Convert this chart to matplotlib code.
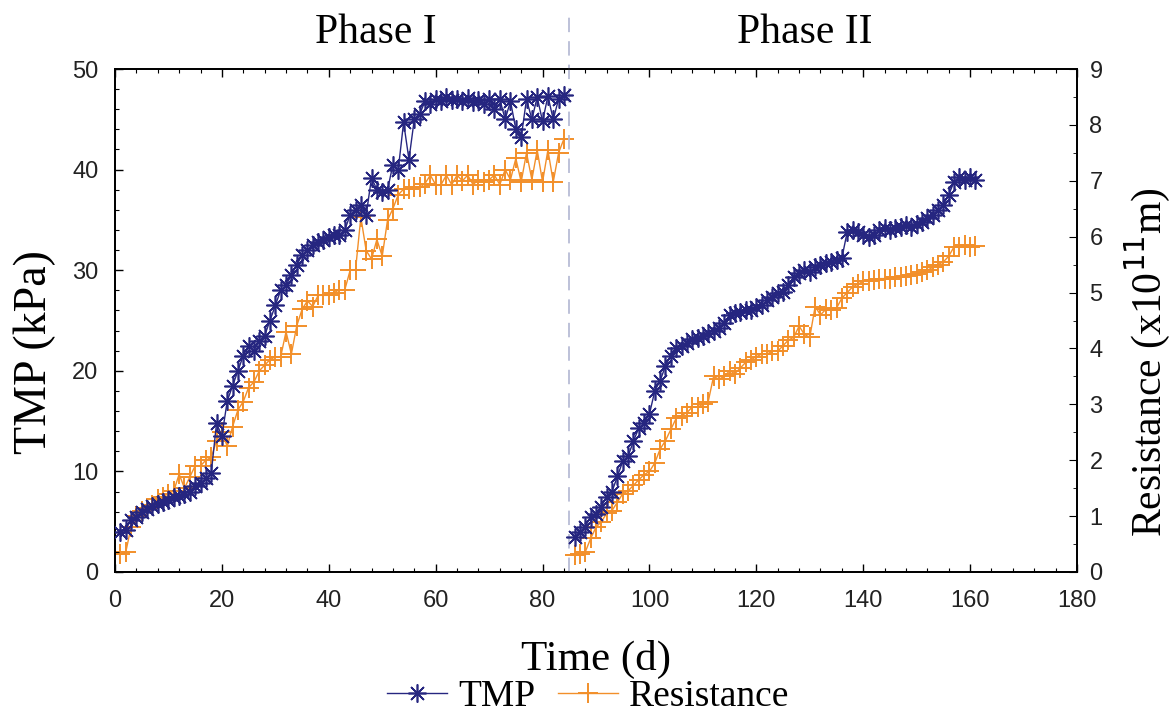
import matplotlib.pyplot as plt
from matplotlib.ticker import MultipleLocator
from matplotlib.lines import Line2D

plt.rcParams["font.family"] = ["Liberation Serif", "DejaVu Serif"]

# Phase I (days 1-84)
days_1 = list(range(1, 85))
tmp_1 = [4.0, 4.2, 5.2, 5.5, 6.0, 6.3, 6.6, 6.8, 7.0, 7.2, 7.5, 7.6, 7.8, 8.0, 8.5, 8.8,
         9.3, 9.8, 14.8, 13.5, 17.0, 18.5, 20.0, 21.5, 22.5, 22.0, 23.0, 23.5, 25.0, 26.5,
         28.0, 28.5, 29.5, 30.5, 31.5, 32.0, 32.5, 32.8, 33.0, 33.3, 33.5, 33.5, 34.0, 35.5,
         36.0, 36.5, 35.5, 39.2, 38.0, 37.8, 38.0, 40.5, 40.0, 44.7, 41.0, 45.0, 45.5, 46.8,
         46.5, 47.0, 46.8, 47.2, 46.9, 47.0, 46.8, 47.1, 46.7, 46.9, 46.5, 47.0, 46.0, 47.0,
         45.0, 46.8, 44.0, 43.2, 47.0, 45.0, 47.2, 44.8, 47.3, 45.0, 47.0, 47.4]
res_1 = [0.32, 0.35, 0.8, 1.0, 1.1, 1.15, 1.2, 1.3, 1.35, 1.4, 1.45, 1.75, 1.5, 1.7, 1.9,
         1.9, 2.0, 2.05, 2.35, 2.5, 2.25, 2.6, 2.9, 3.05, 3.3, 3.4, 3.6, 3.7, 3.8, 3.85, 3.85,
         4.3, 3.9, 4.4, 4.7, 4.85, 4.75, 4.95, 4.95, 4.95, 5.0, 5.05, 5.05, 5.4, 5.4, 6.35,
         5.75, 5.6, 5.95, 5.65, 6.3, 6.5, 6.75, 6.85, 6.85, 6.88, 6.88, 6.95, 7.1, 6.93, 6.93,
         7.1, 6.93, 7.1, 7.0, 7.1, 6.93, 7.02, 6.98, 7.02, 7.1, 6.93, 7.2, 7.02, 7.4, 6.98,
         7.5, 7.02, 7.55, 6.98, 7.55, 6.98, 7.5, 7.75]

# Phase II (days 86-161)
days_2 = list(range(86, 162))
tmp_2 = [3.5, 4.0, 4.5, 5.5, 5.8, 6.5, 7.5, 8.0, 9.5, 11.0, 11.5, 13.0, 14.3, 14.8, 15.7,
         18.0, 19.0, 20.5, 21.5, 22.3, 22.5, 22.8, 23.2, 23.3, 23.5, 23.8, 24.0, 24.3, 24.8,
         25.5, 25.7, 25.8, 26.0, 26.0, 26.3, 26.5, 27.0, 27.3, 27.7, 27.8, 28.5, 29.3, 29.7,
         30.0, 29.8, 30.3, 30.5, 30.7, 30.8, 31.0, 31.2, 33.8, 34.0, 33.8, 33.5, 33.3, 33.5,
         34.0, 34.2, 34.0, 34.2, 34.3, 34.5, 34.3, 34.6, 34.8, 35.2, 35.5, 36.0, 36.5, 37.5,
         38.8, 39.3, 39.0, 39.3, 39.0]
res_2 = [0.3, 0.33, 0.36, 0.6, 0.8, 0.9, 1.05, 1.1, 1.25, 1.4, 1.45, 1.55, 1.65, 1.74, 1.8,
         1.95, 2.2, 2.35, 2.55, 2.75, 2.8, 2.85, 2.95, 2.95, 3.0, 3.05, 3.5, 3.45, 3.5, 3.6,
         3.55, 3.65, 3.75, 3.8, 3.85, 3.9, 3.9, 3.95, 3.95, 4.05, 4.15, 4.2, 4.4, 4.25, 4.2,
         4.75, 4.6, 4.7, 4.68, 4.72, 4.9, 5.0, 5.1, 5.15, 5.2, 5.2, 5.22, 5.25, 5.25, 5.25,
         5.27, 5.28, 5.3, 5.32, 5.33, 5.36, 5.4, 5.45, 5.5, 5.55, 5.65, 5.82, 5.82, 5.85,
         5.82, 5.83]

phase_split = 85

navy = "#262680"
orange = "#f28f2a"
star = (8, 2, 0)

fig = plt.figure(figsize=(11.76, 7.15), dpi=100)
ax = fig.add_axes([115 / 1176, 1 - 572 / 715, 962 / 1176, 503 / 715])
ax2 = ax.twinx()

for d, t in [(days_1, tmp_1), (days_2, tmp_2)]:
    ax.plot(d, t, color=navy, lw=1.0, marker=star, ms=13, mew=1.2, zorder=3)
for d, r in [(days_1, res_1), (days_2, res_2)]:
    ax2.plot(d, r, color=orange, lw=1.0, marker="+", ms=15, mew=1.4, zorder=2)

ax.set_zorder(ax2.get_zorder() + 1)
ax.patch.set_visible(False)

ax.set_xlim(0, 180)
ax.set_ylim(0, 50)
ax2.set_ylim(0, 9)
ax.xaxis.set_major_locator(MultipleLocator(20))
ax.xaxis.set_minor_locator(MultipleLocator(4))
ax.yaxis.set_major_locator(MultipleLocator(10))
ax.yaxis.set_minor_locator(MultipleLocator(2))
ax2.yaxis.set_major_locator(MultipleLocator(1))
ax2.yaxis.set_minor_locator(MultipleLocator(0.5))

ax.tick_params(axis="x", which="major", direction="in", length=6, width=1.0,
               top=True, labelsize=17, pad=13)
ax.tick_params(axis="y", which="major", direction="in", length=6, width=1.0,
               labelsize=17, pad=12)
ax.tick_params(axis="both", which="minor", direction="in", length=3, width=0.8, top=True)
ax.tick_params(axis="y", right=False, which="both")
ax2.tick_params(axis="y", which="major", direction="in", length=6, labelsize=17, pad=9)
ax2.tick_params(axis="y", which="minor", direction="in", length=3)
for lab in ax.get_xticklabels() + ax.get_yticklabels() + ax2.get_yticklabels():
    lab.set_fontfamily("Liberation Sans")
    lab.set_color("#222222")

for a in (ax, ax2):
    for s in a.spines.values():
        s.set_linewidth(1.3)

ax.set_xlabel("Time (d)", fontsize=31, labelpad=20)
fig.text(35 / 1176, 1 - 352 / 715, "TMP (kPa)", fontsize=33, rotation=90,
         ha="center", va="center")
fig.text(1147 / 1176, 1 - 362 / 715, "Resistance (x10$^{11}$m)", fontsize=30,
         rotation=90, ha="center", va="center")

# phase separator and labels
ax.plot([phase_split, phase_split], [0, 56], color="#b8bcd6", lw=1.3, ls=(0, (8, 5)),
        clip_on=False, zorder=1)
fig.text(376 / 1176, 1 - 33 / 715, "Phase I", fontsize=30, ha="center", va="center")
fig.text(805 / 1176, 1 - 33 / 715, "Phase II", fontsize=30, ha="center", va="center")

handles = [Line2D([], [], color=navy, marker=star, ms=13, mew=1.2, lw=1.0),
           Line2D([], [], color=orange, marker="+", ms=15, mew=1.4, lw=1.0)]
fig.legend(handles, ["TMP", "Resistance"], loc="center", bbox_to_anchor=(0.5, 1 - 697 / 715),
           ncol=2, frameon=False, fontsize=27, handlelength=1.6, handletextpad=0.3,
           columnspacing=0.6)

fig.savefig("out.png", dpi=100)
